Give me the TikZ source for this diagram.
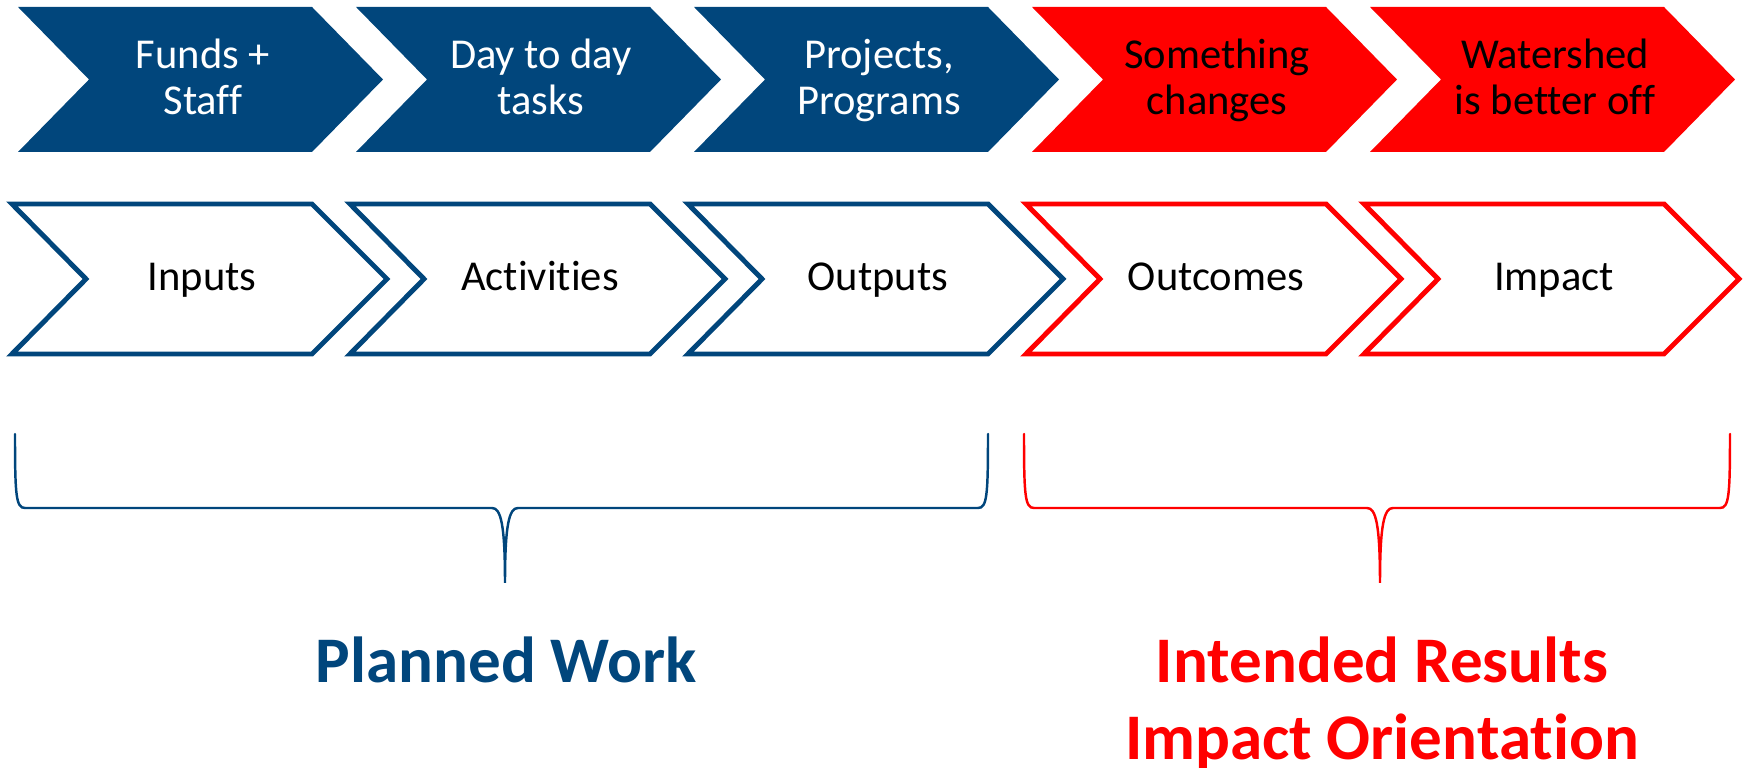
\documentclass[tikz,border=0pt]{standalone}
\usepackage{fontspec}
\setmainfont{Carlito}[Ligatures=NoCommon]
\definecolor{wsblue}{RGB}{1,70,124}
\definecolor{wsred}{RGB}{255,0,0}
\tikzset{
  steptext/.style={align=center, anchor=base, inner sep=0pt, font=\fontsize{12.1}{13.1}\selectfont},
  grouptext/.style={anchor=base, inner sep=0pt, font=\fontsize{18.5}{22}\selectfont\bfseries},
  bracket/.style={line width=0.7pt, line cap=round},
}
\begin{document}
\begin{tikzpicture}[x=0.01cm,y=-0.01cm]
\useasboundingbox (0,0) rectangle (1747,768);
% filled chevrons on top, outlined ones below
\foreach \i/\col/\fg/\txt/\stage in {0/wsblue/white/{Funds +\\Staff}/Inputs,
    1/wsblue/white/{Day to day\\tasks}/Activities,
    2/wsblue/white/{Projects,\\Programs}/Outputs,
    3/wsred/black/{Something\\changes}/Outcomes,
    4/wsred/black/{Watershed\\is better off}/Impact}{
  \pgfmathsetmacro\xa{18+338*\i}
  \pgfmathsetmacro\xb{12+338*\i}
  \fill[\col] (\xa,7) -- ++(294,0) -- ++(71,72.5) -- ++(-71,72.5) -- ++(-294,0) -- ++(71,-72.5) -- cycle;
  \node[steptext,text=\fg] (work\i) at (\xa+185,115) {\txt};
  \draw[\col,line width=1.4pt] (\xb,204) -- ++(300,0) -- ++(75,75) -- ++(-75,75) -- ++(-300,0) -- ++(74,-75) -- cycle;
  \node[steptext] (stage\i) at (\xb+190,291) {\stage};
}
% braces
\draw[bracket,wsblue] (15,434) .. controls (15,496) and (16,508) .. (25,508) -- (492,508)
  .. controls (501,508) and (505,525) .. (505,583)
  .. controls (505,525) and (509,508) .. (518,508) -- (978,508)
  .. controls (987,508) and (988,496) .. (988,434);
\draw[bracket,wsred] (1024,434) .. controls (1024,496) and (1025,508) .. (1034,508) -- (1367,508)
  .. controls (1376,508) and (1380,525) .. (1380,583)
  .. controls (1380,525) and (1384,508) .. (1393,508) -- (1720,508)
  .. controls (1729,508) and (1730,496) .. (1730,434);
\node[grouptext,text=wsblue] (planned) at (506,683) {Planned Work};
\node[grouptext,text=wsred] (results) at (1382,683) {Intended Results};
\node[grouptext,text=wsred] (orientation) at (1382,760) {Impact Orientation};
\end{tikzpicture}
\end{document}
